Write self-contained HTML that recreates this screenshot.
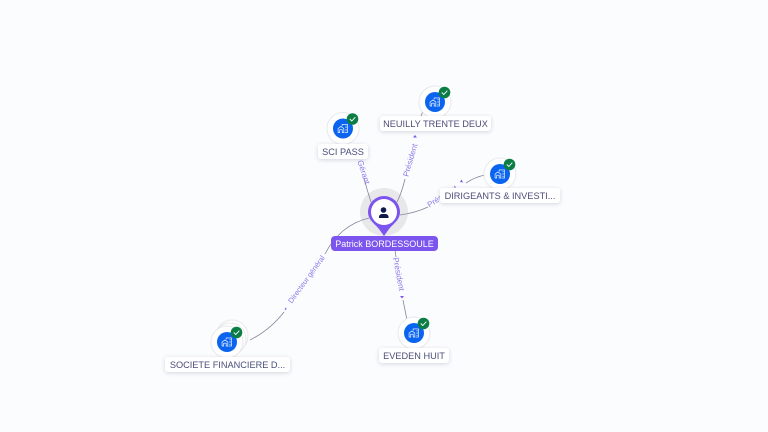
<!DOCTYPE html>
<html>
<head>
<meta charset="utf-8">
<style>
html,body{margin:0;padding:0;background:#fbfcfe;}
body{width:768px;height:432px;overflow:hidden;position:relative;font-family:"Liberation Sans",sans-serif;}
svg{position:absolute;left:0;top:0;}
.lb{position:absolute;height:15px;line-height:16px;background:#fff;border-radius:3px;box-shadow:0 1px 4px rgba(60,60,90,.2);color:#4a4d78;font-size:9.2px;text-align:center;white-space:nowrap;}
.main{position:absolute;left:331px;top:236px;width:107px;height:15px;line-height:16px;background:#7c55ee;border-radius:4px;color:#fff;font-size:9px;text-align:center;white-space:nowrap;}
</style>
</head>
<body>
<svg width="768" height="432" viewBox="0 0 768 432">
<defs>
<g id="bld" fill="none" stroke="#fff" stroke-width=".8" transform="scale(.82)">
<path d="M-6 5V0L-2.500 -2.500L1 0V5H-1V1.500H-4V5Z"/>
<path d="M-1 -3V-5H5.500V5H2"/>
<path d="M3 -3H4.500M3 -1H4.500M3 1H4.500M3 3H4.500" stroke-width=".8"/>
</g>
<g id="node">
<circle r="16" fill="#fff" stroke="#e8e8ec" stroke-width="1"/>
<circle r="10" fill="#0a64f0"/>
<use href="#bld"/>
<circle cx="9.500" cy="-9.500" r="5.800" fill="#0b7d45"/>
<path d="M6.800 -9.500L8.800 -7.500L12.300 -11.300" fill="none" stroke="#fff" stroke-width=".9"/>
</g>
</defs>

<circle cx="384" cy="212" r="24" fill="#e8e8ea"/>

<g fill="none" stroke="#85859a" stroke-width=".8">
<path d="M371 202 Q367 190 364 178"/>
<path d="M356 157 L354 151"/>
<path d="M397 202 Q402 192 405 179"/>
<path d="M421 116 L423 111"/>
<path d="M400 215 Q415 213 428 207"/>
<path d="M466 183 Q475 177 485 175"/>
<path d="M369 218 Q340 225 325 254"/>
<path d="M284 312 Q270 330 250 340"/>
<path d="M395 250 L396 257"/>
<path d="M403 300 Q405 310 407 320"/>
</g>

<g fill="#7c55ee">
<path d="M284.500 310l2 -.5l-.5 -2.500z" />
<path d="M402 298.500l-2 -2.500h4z"/>
<path d="M463 182.500l-3 -.5l1.500 -2.500z"/>
<path d="M415 135l-2 2.500h4z"/>
</g>

<g font-family="'Liberation Sans',sans-serif" font-size="8" fill="#8f78ec" text-anchor="middle" dy="3">
<text transform="translate(364 172) rotate(72)" dy="3">Gérant</text>
<text transform="translate(410 160) rotate(-74)" dy="3">Président</text>
<text transform="translate(442 196) rotate(-33)" dy="3">Président</text>
<text transform="translate(306 279) rotate(-54)" dy="3" font-size="7.400">Directeur général</text>
<text transform="translate(399 274) rotate(79)" dy="3">Président</text>
</g>

<path d="M368 212a16 16 0 1 1 32 0c0 8-7 12-11 17l-5 7l-5-7c-4-5-11-9-11-17z" fill="#7c55ee"/>
<circle cx="384" cy="212" r="13" fill="#fff"/>
<circle cx="383.500" cy="210" r="2.800" fill="#0d1a4a"/>
<path d="M379 218v-1.500a3.500 3 0 0 1 3.500-2.500h2.500a3.500 3 0 0 1 3.500 2.500v1.500z" fill="#0d1a4a"/>

<use href="#node" x="343" y="128.500"/>
<use href="#node" x="435" y="102"/>
<use href="#node" x="500" y="174"/>
<circle cx="232" cy="336" r="16" fill="#fff" stroke="#e8e8ec"/>
<circle cx="230" cy="339" r="16" fill="#fff" stroke="#e8e8ec"/>
<use href="#node" x="227" y="342"/>
<use href="#node" x="414" y="333"/>
</svg>

<div class="main">Patrick BORDESSOULE</div>
<div class="lb" style="left:318px;top:144px;width:50px;">SCI PASS</div>
<div class="lb" style="left:380px;top:116px;width:111px;">NEUILLY TRENTE DEUX</div>
<div class="lb" style="left:440px;top:188px;width:120px;">DIRIGEANTS &amp; INVESTI...</div>
<div class="lb" style="left:165px;top:357px;width:125px;">SOCIETE FINANCIERE D...</div>
<div class="lb" style="left:379px;top:348px;width:70px;">EVEDEN HUIT</div>
</body>
</html>
